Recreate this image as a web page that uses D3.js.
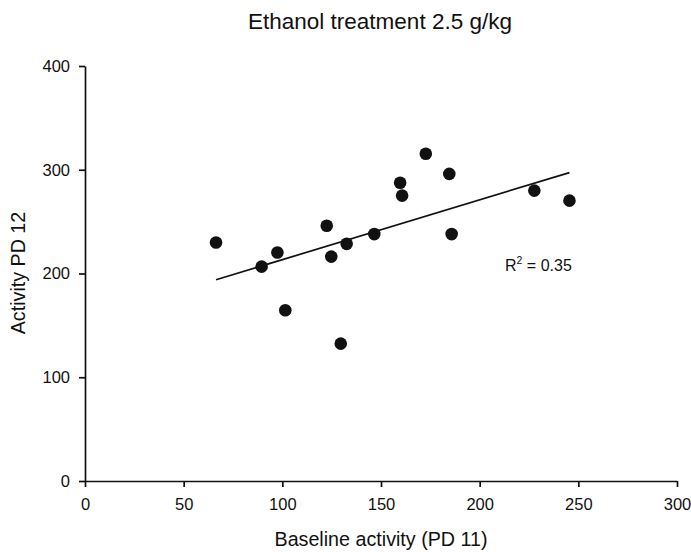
<!DOCTYPE html>
<html><head><meta charset="utf-8">
<script src="https://cdn.jsdelivr.net/npm/d3@7"></script>
<style>body{margin:0;background:#fff}svg{display:block}text{font-family:"Liberation Sans",Arial,sans-serif;fill:#111}</style>
</head><body>
<script>
const baseline = [66.4, 89.5, 97.5, 101.5, 122.5, 124.8, 129.6, 132.6, 146.6, 159.7, 160.7, 172.7, 184.6, 185.8, 227.7, 245.5];
const activity = [229.9, 206.6, 220.2, 164.6, 246.0, 216.3, 132.4, 228.6, 238.0, 287.4, 275.1, 315.4, 296.0, 238.0, 279.9, 270.2];
const xTicks = [0, 50, 100, 150, 200, 250, 300];
const yTicks = [0, 100, 200, 300, 400];
const title = "Ethanol treatment 2.5 g/kg";
const xTitle = "Baseline activity (PD 11)";
const yTitle = "Activity PD 12";
const r2Label = "0.35";

const W = 691, H = 552;
const svg = d3.select("body").append("svg").attr("width", W).attr("height", H);
const x = d3.scaleLinear().domain([0, 300]).range([85, 677]);
const y = d3.scaleLinear().domain([0, 400]).range([481, 66]);

const xa = svg.append("g").attr("transform", `translate(0,${y(0)})`)
  .call(d3.axisBottom(x).tickValues(xTicks).tickSize(6).tickPadding(11).tickSizeOuter(0));
const ya = svg.append("g").attr("transform", `translate(${x(0)},0)`)
  .call(d3.axisLeft(y).tickValues(yTicks).tickSize(6).tickPadding(9).tickSizeOuter(0));
[xa, ya].forEach(g => {
  g.selectAll("path,line").attr("stroke", "#111").attr("stroke-width", 1.7);
  g.selectAll("text").attr("font-size", 16.5).attr("fill", "#111").style("font-family", '"Liberation Sans",Arial,sans-serif');
});

// least-squares regression line over the data range
const n = baseline.length;
const mx = d3.mean(baseline), my = d3.mean(activity);
let sxy = 0, sxx = 0;
for (let i = 0; i < n; i++) { sxy += (baseline[i]-mx)*(activity[i]-my); sxx += (baseline[i]-mx)**2; }
const b = sxy / sxx, a = my - b * mx;
const [x0, x1] = d3.extent(baseline);
svg.append("line")
  .attr("x1", x(x0)).attr("y1", y(a + b*x0))
  .attr("x2", x(x1)).attr("y2", y(a + b*x1))
  .attr("stroke", "#111").attr("stroke-width", 1.7);

svg.append("g").selectAll("circle").data(baseline.map((v,i)=>[v, activity[i]])).join("circle")
  .attr("cx", d => x(d[0])).attr("cy", d => y(d[1])).attr("r", 6.3).attr("fill", "#111");

svg.append("text").attr("x", 380).attr("y", 29).attr("text-anchor", "middle").attr("font-size", 22.5).text(title);
svg.append("text").attr("x", 381).attr("y", 546).attr("text-anchor", "middle").attr("font-size", 19.7).text(xTitle);
svg.append("text").attr("transform", `translate(25,273) rotate(-90)`).attr("text-anchor", "middle").attr("font-size", 19.7).text(yTitle);

const rt = svg.append("text").attr("x", 505).attr("y", 271).attr("font-size", 16);
rt.append("tspan").text("R");
rt.append("tspan").attr("font-size", 10.5).attr("dy", -7).text("2");
rt.append("tspan").attr("dy", 7).text(" = " + r2Label);
</script>
</body></html>
